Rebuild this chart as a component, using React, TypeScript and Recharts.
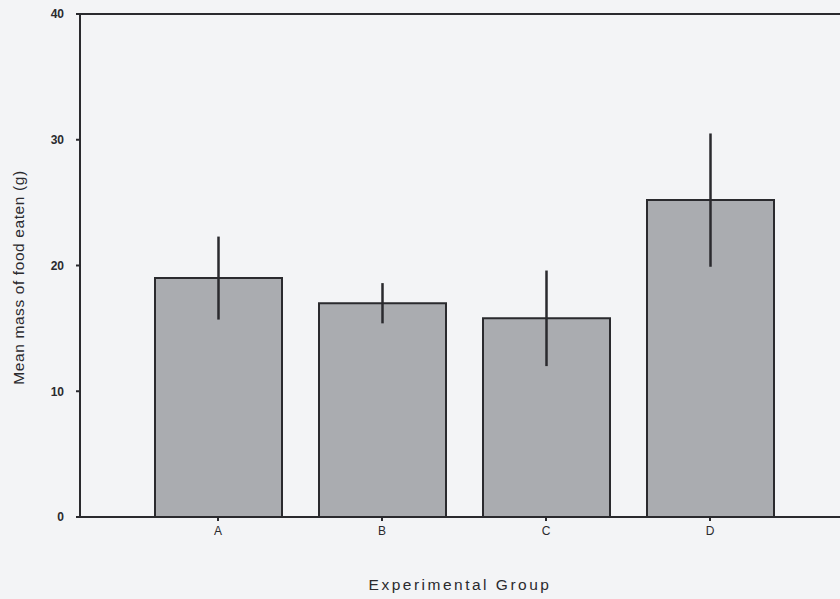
import { BarChart, Bar, XAxis, YAxis, ErrorBar, ReferenceLine } from 'recharts'

const groups = ['A', 'B', 'C', 'D']
const meanMass = [19.0, 17.0, 15.8, 25.2]
const errMass = [3.3, 1.6, 3.8, 5.3]
const yTicks = [0, 10, 20, 30, 40]

const data = groups.map((g, i) => ({ group: g, mean: meanMass[i], err: errMass[i] }))

const ink = '#2a2a2e'
const font = 'Arial, "Liberation Sans", sans-serif'

function YLabel({ viewBox }: { viewBox?: { x: number; y: number; width: number; height: number } }) {
  if (!viewBox) return null
  const cx = viewBox.x + 18
  const cy = viewBox.y + viewBox.height / 2 + 12
  return (
    <text
      x={cx} y={cy} transform={`rotate(-90 ${cx} ${cy})`}
      textAnchor="middle" dominantBaseline="central"
      fontSize={15.5} fill={ink} fontFamily={font} letterSpacing={0.6}
    >
      Mean mass of food eaten (g)
    </text>
  )
}

/** Bar chart with SD error bars, styled like an old SPSS print. */
export default function App() {
  return (
    <div style={{ position: 'absolute', left: 0, top: 0, width: 840, height: 599, background: '#f3f4f6', overflow: 'hidden' }}>
      <BarChart
        width={840}
        height={599}
        data={data}
        margin={{ top: 14, right: 0, left: 0, bottom: 0 }}
        barSize={127}
      >
        <XAxis
          dataKey="group"
          height={82}
          padding={{ left: 56, right: 48 }}
          stroke={ink}
          strokeWidth={2}
          tickSize={4}
          tickMargin={5}
          tick={{ fontSize: 12, fill: ink, fontFamily: font }}
          label={{
            value: 'Experimental Group', position: 'insideBottom', offset: 9,
            fontSize: 15.5, fill: ink, fontFamily: font, style: { letterSpacing: 2.5 },
          }}
        />
        <YAxis
          width={80}
          domain={[0, 40]}
          ticks={yTicks}
          stroke={ink}
          strokeWidth={2}
          tickSize={4}
          tickMargin={12}
          tick={{ fontSize: 12, fill: ink, fontFamily: font, fontWeight: 'bold' }}
          label={<YLabel />}
        />
        <ReferenceLine y={40} stroke={ink} strokeWidth={2} />
        <Bar dataKey="mean" fill="#aaacb0" stroke={ink} strokeWidth={2} isAnimationActive={false}>
          <ErrorBar dataKey="err" width={0} stroke={ink} strokeWidth={2.5} direction="y" />
        </Bar>
      </BarChart>
    </div>
  )
}
